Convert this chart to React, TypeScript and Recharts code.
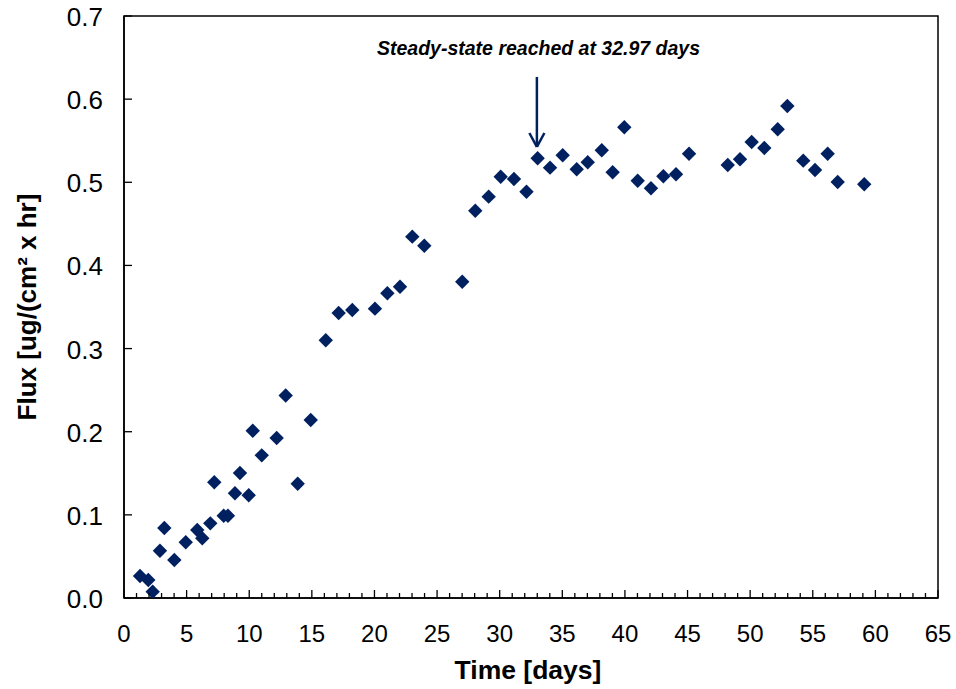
import React from "react";
import {
  ScatterChart,
  Scatter,
  XAxis,
  YAxis,
  ReferenceArea,
  ReferenceLine,
  ReferenceDot,
  Label,
} from "recharts";

const days = [
  1.28, 1.94, 2.29, 2.87, 3.22, 4.02, 4.93, 5.85, 6.25, 6.89, 7.21, 7.96, 8.3,
  8.86, 9.26, 9.96, 10.28, 11.0, 12.19, 12.91, 13.87, 14.91, 16.11, 17.14,
  18.23, 20.04, 21.03, 22.04, 23.02, 23.98, 27.01, 28.05, 29.12, 30.08, 31.14,
  32.14, 33.03, 34.02, 35.03, 36.15, 37.03, 38.15, 39.02, 39.95, 41.02, 42.08,
  43.07, 44.08, 45.12, 48.21, 49.19, 50.12, 51.13, 52.2, 52.97, 54.24, 55.18,
  56.19, 56.99, 59.11,
];

const flux = [
  0.0265, 0.0217, 0.0076, 0.0569, 0.0842, 0.0457, 0.067, 0.0818, 0.0718,
  0.0898, 0.1392, 0.099, 0.099, 0.1259, 0.1503, 0.1235, 0.2012, 0.1716, 0.1924,
  0.2436, 0.1375, 0.2141, 0.31, 0.3428, 0.3464, 0.348, 0.3665, 0.3744, 0.4346,
  0.4237, 0.3804, 0.4658, 0.4827, 0.5067, 0.504, 0.4887, 0.5289, 0.5176,
  0.5325, 0.5156, 0.5241, 0.5385, 0.512, 0.5662, 0.5019, 0.4928, 0.5072,
  0.5096, 0.5344, 0.5208, 0.5277, 0.5485, 0.5413, 0.5637, 0.5918, 0.526,
  0.5148, 0.5344, 0.5004, 0.4976,
];

const xMajorTicks = [0, 5, 10, 15, 20, 25, 30, 35, 40, 45, 50, 55, 60, 65];
const xAllTicks = Array.from({ length: 66 }, (_, i) => i);
const yTicks = [0, 0.1, 0.2, 0.3, 0.4, 0.5, 0.6, 0.7];

const steadyDay = 32.97;
const arrowTop = 0.6267;
const arrowTip = 0.5425;
const arrowArmY = 0.5593;
const arrowArmDx = 0.6;
const annotationText = "Steady-state reached at 32.97 days";
const annotationY = 0.653;
const annotationX = 33.1;

const data = days.map((d, i) => ({ x: d, y: flux[i] }));

const NAVY = "#002060";
const FONT = "'Liberation Sans', Arial, sans-serif";

const Diamond = (props: any) => {
  const { cx, cy } = props;
  if (cx == null || cy == null) return null;
  const r = 7.2;
  return (
    <path
      d={`M${cx},${cy - r}L${cx + r},${cy}L${cx},${cy + r}L${cx - r},${cy}Z`}
      fill={NAVY}
    />
  );
};

const XTick = (props: any) => {
  const { x, y, payload } = props;
  const v = payload.value;
  const major = xMajorTicks.includes(v);
  return (
    <g>
      <line x1={x} x2={x} y1={y} y2={y - (major ? 8 : 5)} stroke="#000" strokeWidth={1.3} />
      {major && (
        <text
          x={x}
          y={y + 44}
          textAnchor="middle"
          fontFamily={FONT}
          fontSize={24}
          fill="#000"
        >
          {v}
        </text>
      )}
    </g>
  );
};

const YTick = (props: any) => {
  const { x, y, payload } = props;
  return (
    <g>
      <line x1={x} x2={x + 8} y1={y} y2={y} stroke="#000" strokeWidth={1.3} />
      <text
        x={x - 21}
        y={y + 10}
        textAnchor="end"
        fontFamily={FONT}
        fontSize={26}
        fill="#000"
      >
        {payload.value.toFixed(1)}
      </text>
    </g>
  );
};

export default function App() {
  return (
    <div style={{ position: "absolute", left: 0, top: 0 }}>
      <ScatterChart
        width={956}
        height={689}
        margin={{ top: 16, right: 18, left: 44, bottom: 31 }}
      >
        <XAxis
          type="number"
          dataKey="x"
          domain={[0, 65]}
          ticks={xAllTicks}
          interval={0}
          tick={<XTick />}
          tickLine={false}
          tickSize={0}
          tickMargin={0}
          axisLine={{ stroke: "#000", strokeWidth: 1.5 }}
          height={60}
          allowDataOverflow
        >
          <Label
            content={(p: any) => {
              const vb = p.viewBox;
              return (
                <text
                  x={vb.x + vb.width / 2 - 3}
                  y={679}
                  textAnchor="middle"
                  fontFamily={FONT}
                  fontWeight="bold"
                  fontSize={26.5}
                  fill="#000"
                >
                  Time [days]
                </text>
              );
            }}
          />
        </XAxis>
        <YAxis
          type="number"
          dataKey="y"
          domain={[0, 0.7]}
          ticks={yTicks}
          interval={0}
          tick={<YTick />}
          tickLine={false}
          tickSize={0}
          tickMargin={0}
          axisLine={{ stroke: "#000", strokeWidth: 1.5 }}
          width={80}
          allowDataOverflow
        >
          <Label
            content={(p: any) => {
              const vb = p.viewBox;
              const cy = vb.y + vb.height / 2;
              return (
                <text
                  x={0}
                  y={0}
                  transform={`translate(36, ${cy}) rotate(-90)`}
                  textAnchor="middle"
                  fontFamily={FONT}
                  fontWeight="bold"
                  fontSize={26}
                  fill="#000"
                >
                  Flux [ug/(cm² x hr]
                </text>
              );
            }}
          />
        </YAxis>
        <ReferenceArea
          x1={0}
          x2={65}
          y1={0}
          y2={0.7}
          fill="none"
          stroke="#000"
          strokeWidth={1.5}
          fillOpacity={0}
        />
        <ReferenceLine
          segment={[
            { x: steadyDay, y: arrowTop },
            { x: steadyDay, y: arrowTip },
          ]}
          stroke={NAVY}
          strokeWidth={2.5}
          ifOverflow="visible"
        />
        <ReferenceLine
          segment={[
            { x: steadyDay - arrowArmDx, y: arrowArmY },
            { x: steadyDay, y: arrowTip },
          ]}
          stroke={NAVY}
          strokeWidth={2.5}
          ifOverflow="visible"
        />
        <ReferenceLine
          segment={[
            { x: steadyDay + arrowArmDx, y: arrowArmY },
            { x: steadyDay, y: arrowTip },
          ]}
          stroke={NAVY}
          strokeWidth={2.5}
          ifOverflow="visible"
        />
        <ReferenceDot
          x={annotationX}
          y={annotationY}
          r={0}
          fill="none"
          stroke="none"
          ifOverflow="visible"
          label={(p: any) => {
            const vb = p.viewBox || {};
            const cx = vb.x + (vb.width || 0) / 2;
            const cy = vb.y + (vb.height || 0) / 2;
            return (
              <text
                x={cx}
                y={cy}
                textAnchor="middle"
                fontFamily={FONT}
                fontWeight="bold"
                fontStyle="italic"
                fontSize={19.5}
                fill="#000"
              >
                {annotationText}
              </text>
            );
          }}
        />
        <Scatter
          data={data}
          fill={NAVY}
          shape={<Diamond />}
          isAnimationActive={false}
        />
      </ScatterChart>
    </div>
  );
}
